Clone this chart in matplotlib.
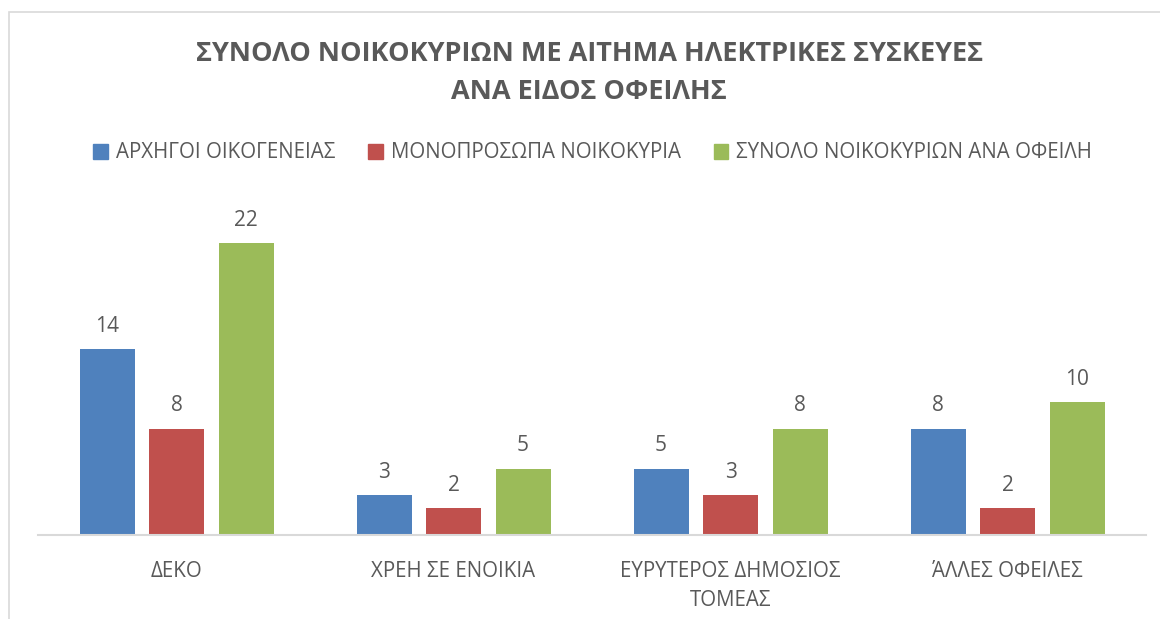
import matplotlib
matplotlib.use("Agg")
import matplotlib.pyplot as plt
import numpy as np
from matplotlib.patches import Rectangle

categories = ["ΔΕΚΟ", "ΧΡΕΗ ΣΕ ΕΝΟΙΚΙΑ", "ΕΥΡΥΤΕΡΟΣ ΔΗΜΟΣΙΟΣ\nΤΟΜΕΑΣ", "ΆΛΛΕΣ ΟΦΕΙΛΕΣ"]
series_names = ["ΑΡΧΗΓΟΙ ΟΙΚΟΓΕΝΕΙΑΣ", "ΜΟΝΟΠΡΟΣΩΠΑ ΝΟΙΚΟΚΥΡΙΑ", "ΣΥΝΟΛΟ ΝΟΙΚΟΚΥΡΙΩΝ ΑΝΑ ΟΦΕΙΛΗ"]
arxigoi = [14, 3, 5, 8]
monoprosopa = [8, 2, 3, 2]
synolo = [22, 5, 8, 10]
colors = ["#4F81BD", "#C0504D", "#9BBB59"]
title = "ΣΥΝΟΛΟ ΝΟΙΚΟΚΥΡΙΩΝ ΜΕ ΑΙΤΗΜΑ ΗΛΕΚΤΡΙΚΕΣ ΣΥΣΚΕΥΕΣ\nΑΝΑ ΕΙΔΟΣ ΟΦΕΙΛΗΣ"

plt.rcParams['font.family'] = ['Open Sans', 'DejaVu Sans']
txt = "#595959"

W, H = 1160, 619
fig = plt.figure(figsize=(W / 100, H / 100), dpi=100)
fig.patch.set_facecolor("white")

# chart frame (top/left visible)
fig.add_artist(Rectangle((8.5 / W, -0.1), 1.2, 1 - 11.5 / H + 0.1, transform=fig.transFigure,
                         fill=False, edgecolor="#D9D9D9", linewidth=1.2))

x0, x1 = 38, 1146
ybase, ytop = 535, 243
ax = fig.add_axes([x0 / W, (H - ybase) / H, (x1 - x0) / W, (ybase - ytop) / H * 1.0])
ax.set_xlim(-0.5, 3.5)
ax.set_ylim(0, 22)

x = np.arange(len(categories))
width = 55 / 277
offset = 69.5 / 277
for i, (vals, c, name) in enumerate(zip([arxigoi, monoprosopa, synolo], colors, series_names)):
    bars = ax.bar(x + (i - 1) * offset, vals, width=width, color=c, label=name, clip_on=False)
    ax.bar_label(bars, labels=[str(v) for v in vals], padding=9, fontsize=15, color=txt)

for s in ["top", "right", "left"]:
    ax.spines[s].set_visible(False)
ax.spines["bottom"].set_color("#D9D9D9")
ax.spines["bottom"].set_linewidth(1.5)
ax.set_yticks([])
ax.set_xticks(x)
ax.set_xticklabels(categories, fontsize=14.8, color=txt, linespacing=1.5)
ax.tick_params(axis="x", length=0, pad=19)

fig.text(0.508, 1 - 73 / H, title, ha="center", va="center", fontsize=19.5, fontweight="bold",
         color=txt, linespacing=1.62)

handles = [Rectangle((0, 0), 1, 1, color=c) for c in colors]
fig.legend(handles, series_names, loc="center", bbox_to_anchor=(0.511, 1 - 153 / H), ncol=3,
           frameon=False, fontsize=14.8, labelcolor=txt, handlelength=0.7, handleheight=0.7,
           handletextpad=0.4, columnspacing=1.6)

fig.savefig("out.png", dpi=100)
